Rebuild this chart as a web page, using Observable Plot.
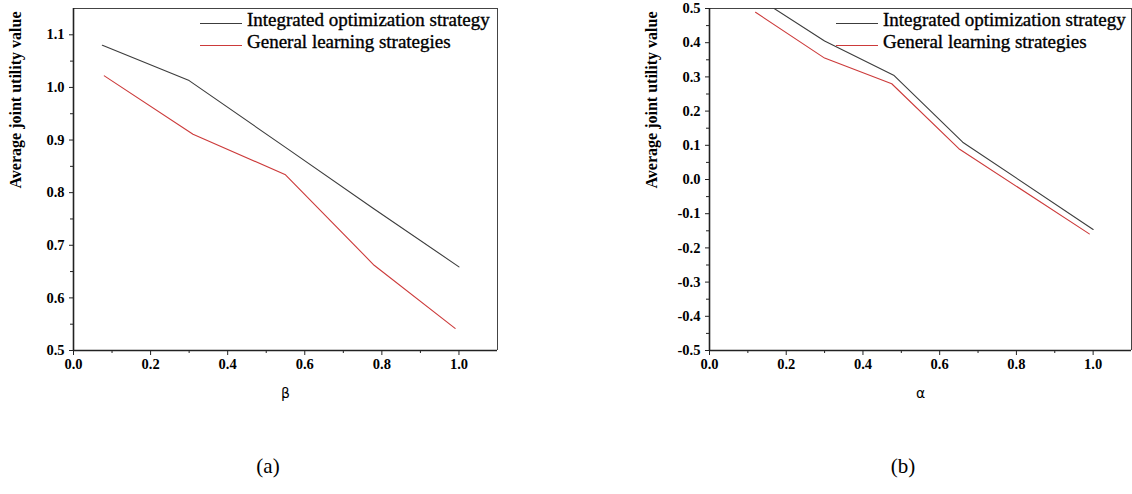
<!DOCTYPE html>
<html>
<head>
<meta charset="utf-8">
<script src="https://cdn.jsdelivr.net/npm/d3@7"></script>
<script src="https://cdn.jsdelivr.net/npm/@observablehq/plot@0.6"></script>
<style>
  html, body { margin: 0; padding: 0; background: #fff; }
  body { width: 1132px; height: 494px; position: relative; overflow: hidden; font-family: "Liberation Serif", serif; }
  .panel { position: absolute; top: 0; }
  .leg { position: absolute; font-family: "Liberation Serif", serif; font-size: 19px; line-height: 22px; color: #000; white-space: nowrap; -webkit-text-stroke: 0.35px #000; }
  .legline { position: absolute; height: 0; border-top: 1.2px solid; }
  .cap { position: absolute; font-family: "Liberation Serif", serif; font-size: 21px; color: #000; transform: translate(-50%, -50%); }
</style>
</head>
<body>
<div id="left" class="panel" style="left:0px"></div>
<div id="right" class="panel" style="left:600px"></div>
<script>
// ---- data ----
const seriesNames = ["Integrated optimization strategy", "General learning strategies"];
const seriesColors = ["#3c3c3c", "#cc3a3a"];

// panel (a): x = beta
const betaIntX = [0.075, 0.30, 0.55, 0.78, 1.00];
const betaIntY = [1.080, 1.013, 0.886, 0.769, 0.659];
const betaGenX = [0.08, 0.31, 0.55, 0.78, 0.99];
const betaGenY = [1.022, 0.911, 0.834, 0.662, 0.542];

// panel (b): x = alpha
const alphaIntX = [0.12, 0.30, 0.48, 0.66, 1.00];
const alphaIntY = [0.535, 0.405, 0.305, 0.109, -0.146];
const alphaGenX = [0.12, 0.30, 0.475, 0.65, 0.99];
const alphaGenY = [0.489, 0.355, 0.280, 0.090, -0.159];

// ticks
const xMajorTicks = [0.0, 0.2, 0.4, 0.6, 0.8, 1.0];
const xMinorTicks = [0.1, 0.3, 0.5, 0.7, 0.9];
const betaYMajor = [0.5, 0.6, 0.7, 0.8, 0.9, 1.0, 1.1];
const betaYMinor = [0.55, 0.65, 0.75, 0.85, 0.95, 1.05];
const alphaYMajor = [-0.5, -0.4, -0.3, -0.2, -0.1, 0.0, 0.1, 0.2, 0.3, 0.4, 0.5];
const alphaYMinor = [-0.45, -0.35, -0.25, -0.15, -0.05, 0.05, 0.15, 0.25, 0.35, 0.45];

const yTitle = "Average joint utility value";
const SERIF = "'Liberation Serif', 'Times New Roman', serif";

function panel(cfg) {
  const fmt = d => (Math.abs(d) < 1e-9 ? 0 : d).toFixed(1);
  const idxI = d3.range(cfg.intX.length);
  const idxG = d3.range(cfg.genX.length);
  return Plot.plot({
    width: cfg.width,
    height: 420,
    marginLeft: cfg.marginLeft,
    marginRight: cfg.marginRight,
    marginTop: 8,
    marginBottom: 70,
    x: { domain: [0, 1.1] },
    y: { domain: cfg.yDomain },
    style: `font-family: ${SERIF}; font-size: 14px; color: #000; background: transparent; overflow: visible;`,
    marks: [
      Plot.axisX({ ticks: xMajorTicks, tickSize: 5, tickPadding: 3, tickFormat: fmt, label: null, stroke: "#222", fontWeight: "bold", fontFamily: SERIF, fontSize: 14.5 }),
      Plot.axisX({ ticks: xMinorTicks, tickSize: 3, tickFormat: () => "", label: null, stroke: "#222" }),
      Plot.axisY({ ticks: cfg.yMajor, tickSize: 4, tickPadding: 5, tickFormat: fmt, label: null, stroke: "#222", fontWeight: "bold", fontFamily: SERIF, fontSize: 14.5 }),
      Plot.axisY({ ticks: cfg.yMinor, tickSize: 3, tickFormat: () => "", label: null, stroke: "#222" }),
      Plot.ruleY([cfg.yDomain[1]], { stroke: "#444", strokeWidth: 1 }),
      Plot.ruleX([1.1], { stroke: "#444", strokeWidth: 1 }),
      Plot.ruleX([0], { stroke: "#222", strokeWidth: 1.6 }),
      Plot.ruleY([cfg.yDomain[0]], { stroke: "#222", strokeWidth: 1.6 }),
      Plot.line(idxI, { x: i => cfg.intX[i], y: i => cfg.intY[i], stroke: seriesColors[0], strokeWidth: 1.1, clip: true }),
      Plot.line(idxG, { x: i => cfg.genX[i], y: i => cfg.genY[i], stroke: seriesColors[1], strokeWidth: 1.1, clip: true }),
      Plot.text([yTitle], { frameAnchor: "left", rotate: -90, dx: -58, dy: 9, fontSize: 16, fontWeight: "bold", fontFamily: SERIF, fill: "#000" }),
      Plot.text([cfg.xTitle], { frameAnchor: "bottom", dy: 47, fontSize: 14, fontWeight: "normal", fontFamily: "'DejaVu Sans', sans-serif", fill: "#000" })
    ]
  });
}

document.getElementById("left").append(panel({
  width: 520, marginLeft: 73, marginRight: 23,
  yDomain: [0.5, 1.15], yMajor: betaYMajor, yMinor: betaYMinor,
  intX: betaIntX, intY: betaIntY, genX: betaGenX, genY: betaGenY, xTitle: "β"
}));
document.getElementById("right").append(panel({
  width: 532, marginLeft: 109, marginRight: 1,
  yDomain: [-0.5, 0.5], yMajor: alphaYMajor, yMinor: alphaYMinor,
  intX: alphaIntX, intY: alphaIntY, genX: alphaGenX, genY: alphaGenY, xTitle: "α"
}));

// legends
function legend(lineLeft) {
  seriesNames.forEach((name, k) => {
    const ln = document.createElement("div");
    ln.className = "legline";
    ln.style.left = lineLeft + "px";
    ln.style.width = "42px";
    ln.style.top = (23 + 22 * k) + "px";
    ln.style.borderColor = seriesColors[k];
    document.body.append(ln);
    const t = document.createElement("div");
    t.className = "leg";
    t.style.left = (lineLeft + 47) + "px";
    t.style.top = (8.6 + 22 * k) + "px";
    t.textContent = name;
    document.body.append(t);
  });
}
legend(200);
legend(836);

// captions
const captions = ["(a)", "(b)"];
const capX = [268, 903];
captions.forEach((c, k) => {
  const d = document.createElement("div");
  d.className = "cap";
  d.style.left = capX[k] + "px";
  d.style.top = "466px";
  d.textContent = c;
  document.body.append(d);
});
</script>
</body>
</html>
